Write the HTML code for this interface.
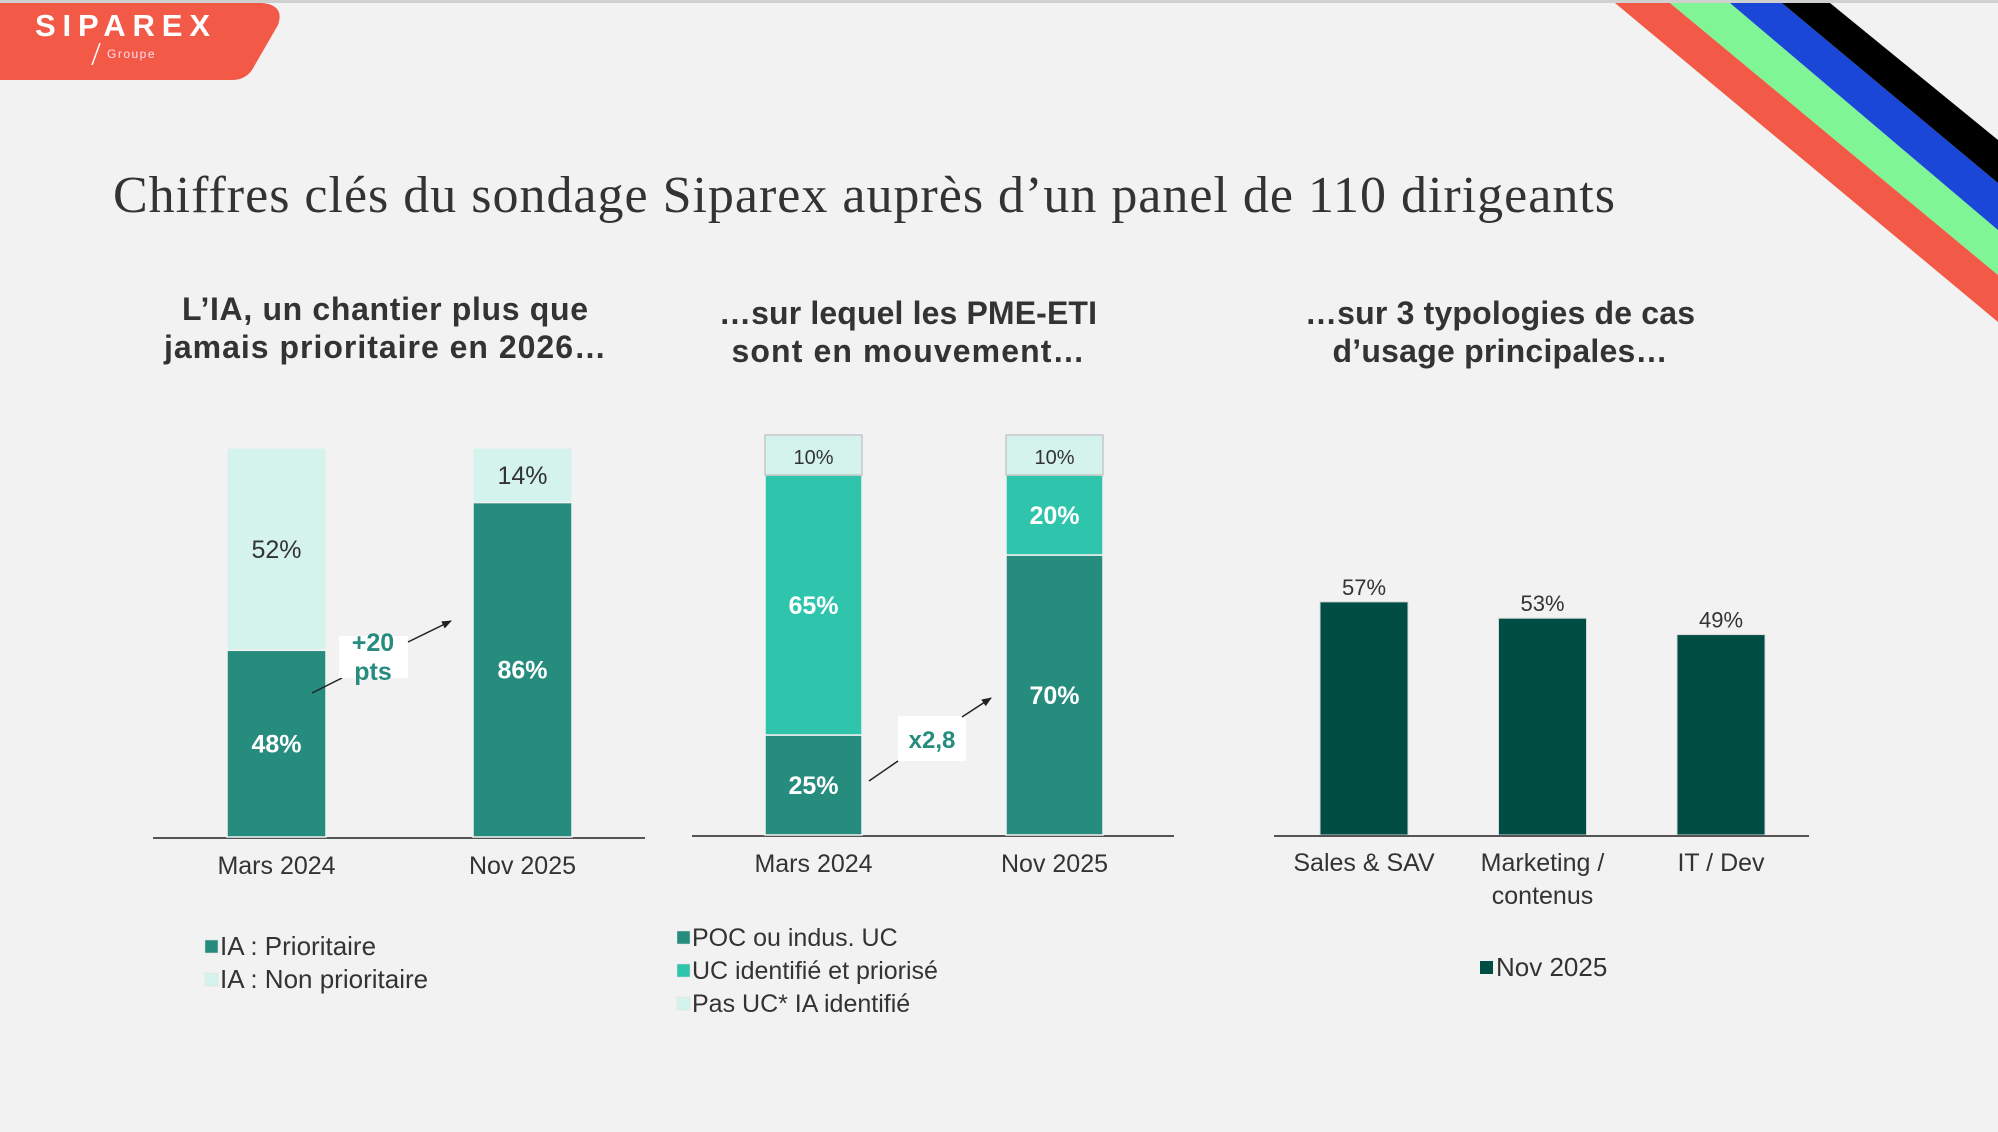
<!DOCTYPE html>
<html><head><meta charset="utf-8"><style>
html,body{margin:0;padding:0;background:#f2f2f2}
svg{display:block}
text{font-family:"Liberation Sans",sans-serif}
</style></head><body>
<svg id="s" width="1998" height="1132" viewBox="0 0 1998 1132" xmlns="http://www.w3.org/2000/svg">
<rect x="0" y="0" width="1998" height="1132" fill="#f2f2f2"/>
<rect x="0" y="0" width="1998" height="3" fill="#d0d0d0"/>
<g>
<path d="M0,3 L262,3 Q285,5 278,25 L252,70 Q245,80 232,80 L0,80 Z" fill="#f25a47"/>
<text x="35" y="36" font-size="31" font-weight="bold" fill="#fff" textLength="175" lengthAdjust="spacing">SIPAREX</text>
<line x1="92" y1="65" x2="100" y2="43" stroke="#fff" stroke-width="1.5"/>
<text x="107" y="58" font-size="12" fill="#fde" letter-spacing="1.5">Groupe</text>
</g>
<g>
<polygon points="1615,3 1670,3 1998,275 1998,322" fill="#f25a47"/>
<polygon points="1670,3 1730,3 1998,230 1998,275" fill="#80f595"/>
<polygon points="1730,3 1782,3 1998,183 1998,230" fill="#1a47d8"/>
<polygon points="1782,3 1830,3 1998,140 1998,183" fill="#000"/>
</g>
<text x="113" y="212" font-size="52" fill="#333" style="font-family:'Liberation Serif',serif" textLength="1502">Chiffres clés du sondage Siparex auprès d’un panel de 110 dirigeants</text>
<g font-size="32" font-weight="bold" fill="#333" text-anchor="middle">
<text x="385" y="320" textLength="406">L’IA, un chantier plus que</text>
<text x="385" y="358" textLength="442">jamais prioritaire en 2026…</text>
<text x="908" y="324" textLength="378">…sur lequel les PME-ETI</text>
<text x="908" y="362" textLength="353">sont en mouvement…</text>
<text x="1500" y="324" textLength="390">…sur 3 typologies de cas</text>
<text x="1500" y="362" textLength="335">d’usage principales…</text>
</g>
<defs><marker id="ah" markerWidth="10" markerHeight="8" refX="9" refY="4" orient="auto" markerUnits="userSpaceOnUse" viewBox="0 0 10 8"><path d="M0,0 L10,4 L0,8 Z" fill="#222"/></marker></defs>
<g id="c1"></g>
<g id="c2"></g>
<g id="c3"></g>
</svg>
<script>
// Chart 1
const c1Categories = ["Mars 2024", "Nov 2025"];
const c1Prioritaire = [48, 86];
const c1NonPrioritaire = [52, 14];
// Chart 2
const c2Categories = ["Mars 2024", "Nov 2025"];
const c2Poc = [25, 70];
const c2Identifie = [65, 20];
const c2Pas = [10, 10];
// Chart 3
const c3Categories = [["Sales & SAV"], ["Marketing /", "contenus"], ["IT / Dev"]];
const c3Values = [57, 53, 49];

const NS = "http://www.w3.org/2000/svg";
function mk(parent, tag, attrs, txt) {
  const e = document.createElementNS(NS, tag);
  for (const k in attrs) e.setAttribute(k, attrs[k]);
  if (txt !== undefined) e.textContent = txt;
  parent.appendChild(e);
  return e;
}

function stacked(gid, cfg) {
  const g = document.getElementById(gid);
  const y = v => cfg.base - v / 100 * cfg.h;
  const ax = mk(g, "line", {x1: cfg.ax0, x2: cfg.ax1, y1: cfg.base + 1, y2: cfg.base + 1, stroke: "#555", "stroke-width": 2});
  
  
  cfg.cats.forEach((c, i) => {
    const x = cfg.xs[i];
    let cum = 0;
    cfg.series.forEach((s, si) => {
      const v = s.vals[i];
      const r = mk(g, "rect", {x: x, width: cfg.w, y: y(cum + v), height: y(cum) - y(cum + v), fill: s.color, stroke: s.stroke || "#f2f2f2", "stroke-width": 1.5});
      
      
      const t = mk(g, "text", {x: x + cfg.w / 2, y: (y(cum) + y(cum + v)) / 2 + cfg.fs * 0.36, "text-anchor": "middle", "font-size": s.fs || cfg.fs, "font-weight": s.bold ? "bold" : "normal", fill: s.tc}, v + "%");
      
      
      cum += v;
    });
    const cl = mk(g, "text", {x: x + cfg.w / 2, y: cfg.base + 37, "text-anchor": "middle", "font-size": 25, fill: "#333"}, c);
    
    
  });
  cfg.legend.forEach((l, i) => {
    const ly = cfg.ly + i * cfg.lgap;
    const sq = mk(g, "rect", {x: cfg.lx, y: ly - 15, width: 13, height: 13, fill: l.color, stroke: "#ddd", "stroke-width": 0.5});
    
    
    const lt = mk(g, "text", {x: cfg.lx + 15, y: ly, "font-size": cfg.lfs, fill: "#333"}, l.label);
    
    
  });
}

stacked("c1", {base: 837, h: 389, ax0: 153, ax1: 645, xs: [227, 473], w: 99, fs: 25, lfs: 26, cats: c1Categories,
  series: [{key: "prioritaire", vals: c1Prioritaire, color: "#268c7e", tc: "#fff", bold: true},
           {key: "non-prioritaire", vals: c1NonPrioritaire, color: "#d3f3ec", tc: "#333"}],
  legend: [{color: "#268c7e", label: "IA : Prioritaire"}, {color: "#d3f3ec", label: "IA : Non prioritaire"}],
  lx: 205, ly: 955, lgap: 33});

stacked("c2", {base: 835, h: 400, ax0: 692, ax1: 1174, xs: [765, 1006], w: 97, fs: 25, lfs: 25, cats: c2Categories,
  series: [{key: "poc", vals: c2Poc, color: "#268c7e", tc: "#fff", bold: true},
           {key: "identifie", vals: c2Identifie, color: "#2fc4ac", tc: "#fff", bold: true},
           {key: "pas-uc", vals: c2Pas, color: "#d3f3ec", tc: "#333", fs: 20, stroke: "#c8c8c8"}],
  legend: [{color: "#268c7e", label: "POC ou indus. UC"}, {color: "#2fc4ac", label: "UC identifié et priorisé"}, {color: "#d3f3ec", label: "Pas UC* IA identifié"}],
  lx: 677, ly: 946, lgap: 33});

// annotations
(function () {
  const g1 = document.getElementById("c1");
  const a = mk(g1, "line", {x1: 312, y1: 693, x2: 342, y2: 678, stroke: "#222", "stroke-width": 1.5});
   
  const b = mk(g1, "rect", {x: 339, y: 636, width: 69, height: 42, fill: "#fff"});
   
  const t1 = mk(g1, "text", {x: 373, y: 651, "text-anchor": "middle", "font-size": 25, "font-weight": "bold", fill: "#268c7e"}, "+20");
   
  const t2 = mk(g1, "text", {x: 373, y: 680, "text-anchor": "middle", "font-size": 25, "font-weight": "bold", fill: "#268c7e"}, "pts");
   
  const a2 = mk(g1, "line", {x1: 408, y1: 642, x2: 451, y2: 621, stroke: "#222", "stroke-width": 1.5, "marker-end": "url(#ah)"});
   

  const g2 = document.getElementById("c2");
  const c = mk(g2, "line", {x1: 869, y1: 781, x2: 898, y2: 761, stroke: "#222", "stroke-width": 1.5});
   
  const d = mk(g2, "rect", {x: 898, y: 716, width: 68, height: 45, fill: "#fff"});
   
  const t3 = mk(g2, "text", {x: 932, y: 748, "text-anchor": "middle", "font-size": 24, "font-weight": "bold", fill: "#268c7e"}, "x2,8");
   
  const e = mk(g2, "line", {x1: 962, y1: 717, x2: 991, y2: 698, stroke: "#222", "stroke-width": 1.5, "marker-end": "url(#ah)"});
   
})();

// Chart 3
(function () {
  const g = document.getElementById("c3");
  const base = 835, h = 409, x0 = 1320, step = 178.5, w = 88;
  const y = v => base - v / 100 * h;
  c3Values.forEach((v, i) => {
    const x = x0 + i * step;
    const r = mk(g, "rect", {x: x, y: y(v), width: w, height: base - y(v), fill: "#004d44", stroke: "#d8d8d8", "stroke-width": 1});
    
    
    const t = mk(g, "text", {x: x + w / 2, y: y(v) - 7, "text-anchor": "middle", "font-size": 22, fill: "#333"}, v + "%");
    
    
    c3Categories[i].forEach((line, li) => {
      const cl = mk(g, "text", {x: x + w / 2, y: base + 36 + li * 33, "text-anchor": "middle", "font-size": 25, fill: "#333"}, line);
      
      
    });
  });
  const ax = mk(g, "line", {x1: 1274, x2: 1809, y1: base + 1, y2: base + 1, stroke: "#555", "stroke-width": 2});
  
  
  const sq = mk(g, "rect", {x: 1480, y: 961, width: 13, height: 13, fill: "#004d44"});
  
  
  const lt = mk(g, "text", {x: 1496, y: 976, "font-size": 26, fill: "#333"}, "Nov 2025");
  
  
})();
</script>
</body></html>
